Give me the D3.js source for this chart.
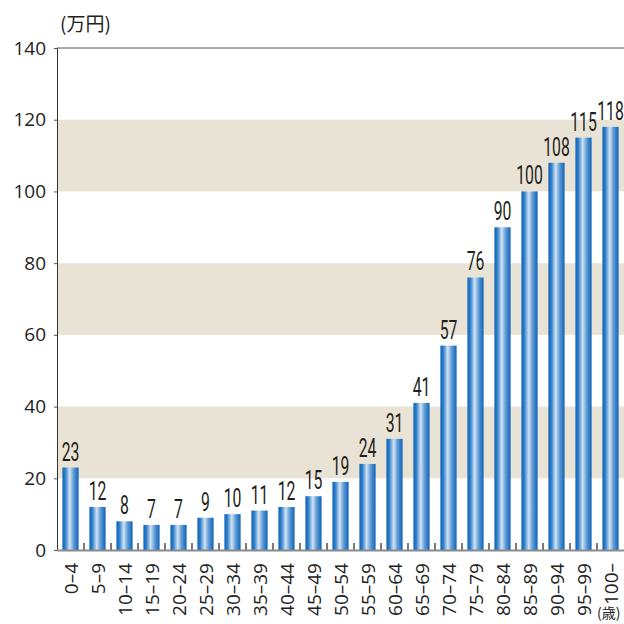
<!DOCTYPE html>
<html><head><meta charset="utf-8">
<script src="https://cdn.jsdelivr.net/npm/d3@7"></script>
<style>body{margin:0;background:#fff}svg{display:block}</style>
</head><body>
<script>
const categories = ["0–4","5–9","10–14","15–19","20–24","25–29","30–34","35–39","40–44","45–49","50–54","55–59","60–64","65–69","70–74","75–79","80–84","85–89","90–94","95–99","100–"];
const values = [23,12,8,7,7,9,10,11,12,15,19,24,31,41,57,76,90,100,108,115,118];
const yTicks = [0,20,40,60,80,100,120,140];
const bands = [[20,40],[60,80],[100,120]];

const W=624,H=624, L=57, R=624, T=48, B=550;
const svg=d3.select("body").append("svg").attr("width",W).attr("height",H);
const x=d3.scaleBand().domain(categories).range([L,R]).paddingInner(0.4).paddingOuter(0.2);
const xb=d3.scaleBand().domain(categories).range([L,R]);
const y=d3.scaleLinear().domain([0,140]).range([B,T]);

const defs=svg.append("defs");
const g=defs.append("linearGradient").attr("id","bg").attr("x1","0").attr("x2","1").attr("y1","0").attr("y2","0");
[[0,"#0f62b6"],[0.18,"#2e7fcb"],[0.45,"#d3e3f3"],[0.7,"#5d9ad6"],[1,"#0f62b6"]].forEach(s=>g.append("stop").attr("offset",s[0]).attr("stop-color",s[1]));

svg.selectAll("rect.band").data(bands).join("rect").attr("class","band")
 .attr("x",L).attr("width",R-L).attr("y",d=>y(d[1])).attr("height",d=>y(d[0])-y(d[1])).attr("fill","#e9e3d5");

svg.append("line").attr("x1",L).attr("x2",R).attr("y1",T).attr("y2",T).attr("stroke","#555").attr("stroke-width",1);

const yAxis=svg.append("g").attr("transform",`translate(${L},0)`).call(d3.axisLeft(y).tickValues(yTicks).tickSize(3).tickPadding(8));
yAxis.select(".domain").attr("stroke","#333").attr("stroke-width",1);
yAxis.selectAll(".tick line").attr("stroke","#555");
yAxis.selectAll("text").attr("font-family","'Open Sans',sans-serif").attr("font-size",19).attr("fill","#222");

svg.selectAll("rect.bar").data(values).join("rect").attr("class","bar")
 .attr("x",(d,i)=>x(categories[i])).attr("width",x.bandwidth())
 .attr("y",d=>y(d)).attr("height",d=>B-y(d)).attr("fill","url(#bg)");

svg.selectAll("line.xt").data(categories.slice(1)).join("line").attr("class","xt")
 .attr("x1",d=>xb(d)).attr("x2",d=>xb(d)).attr("y1",B).attr("y2",B-7).attr("stroke","#222").attr("stroke-width",1.2);

svg.append("line").attr("x1",L).attr("x2",R).attr("y1",B+0.5).attr("y2",B+0.5).attr("stroke","#8a8a8a").attr("stroke-width",2);

svg.selectAll("text.val").data(values).join("text").attr("class","val")
 .attr("transform",(d,i)=>`translate(${x(categories[i])+x.bandwidth()/2},${y(d)-7}) scale(0.63,1)`)
 .attr("text-anchor","middle").attr("font-family","Roboto,sans-serif").attr("font-weight",400).attr("font-size",25).attr("fill","#231f20")
 .text(d=>d);

svg.selectAll("text.cat").data(categories).join("text").attr("class","cat")
 .attr("transform",d=>`translate(${xb(d)+xb.bandwidth()/2+7},${B+13}) rotate(-90)`)
 .attr("text-anchor","end").attr("font-family","'Open Sans',sans-serif").attr("font-size",19).attr("fill","#222")
 .text(d=>d);

svg.append("text").attr("x",60).attr("y",31).attr("font-family","'Noto Sans CJK JP',sans-serif").attr("font-size",19).attr("fill","#222").text("(万円)");
svg.append("text").attr("x",597).attr("y",618).attr("font-family","'Noto Sans CJK JP',sans-serif").attr("font-size",14).attr("fill","#222").text("(歳)");
</script>
</body></html>
